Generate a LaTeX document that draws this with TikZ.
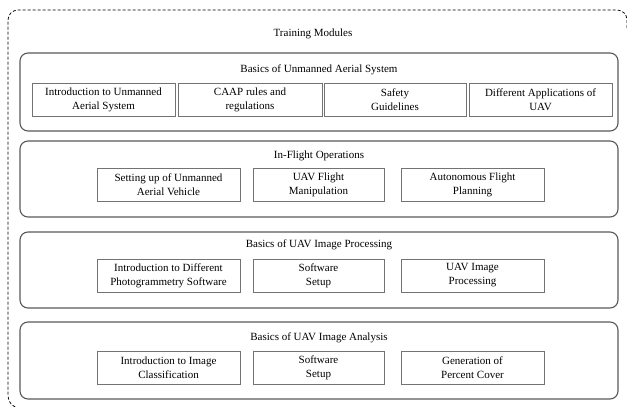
\documentclass[tikz,border=0pt]{standalone}
\usepackage{fontspec}
\setmainfont{Liberation Serif}
\begin{document}
\begin{tikzpicture}[x=1pt, y=-1pt,
	module/.style={draw=black!65, line width=1.1pt, rounded corners=8pt},
	topic/.style={draw=black!55, line width=0.6pt, align=center, inner sep=0pt,
		minimum height=33pt, font=\fontsize{11}{14}\selectfont},
	heading/.style={inner sep=0pt, font=\fontsize{11}{14}\selectfont}]
		\useasboundingbox (0, 0) rectangle (627, 407);
		% outer frame, cut at the page edge
		\begin{scope}
			\clip (0, 0) rectangle (627, 407);
			\draw[line width=0.75pt, dash pattern=on 3pt off 2pt]
				(20, 408) arc[start angle=90, end angle=180, radius=12] -- (8, 20)
				arc[start angle=180, end angle=270, radius=10] -- (617, 10)
				arc[start angle=270, end angle=360, radius=10] -- (627, 30);
		\end{scope}
		\node[heading] (title) at (313, 34) {Training Modules};

		% module frames
		\draw[module] (20, 53) rectangle (618, 131);
		\draw[module] (20, 141) rectangle (618, 217);
		\draw[module] (20, 232) rectangle (618, 308);
		\draw[module] (20, 322) rectangle (618, 399);
		\node[heading] (h1) at (319, 70) {Basics of Unmanned Aerial System};
		\node[heading] (h2) at (319, 156) {In-Flight Operations};
		\node[heading] (h3) at (319, 245) {Basics of UAV Image Processing};
		\node[heading] (h4) at (319, 338) {Basics of UAV Image Analysis};

		% first module
		\foreach \x/\w/\txt [count=\i] in {103.5/143/{Introduction to Unmanned\\Aerial System},
			250/144/{CAAP rules and\\regulations}, 395/142/{Safety\\Guidelines},
			540.5/143/{Different Applications of\\UAV}}{
			\node[topic, minimum width=\w pt] (a\i) at (\x, 99.5) {\txt};
		}
		% other modules
		\foreach \x/\w/\txt [count=\i] in {168.5/143/{Setting up of Unmanned\\Aerial Vehicle},
			318.5/131/{UAV Flight\\Manipulation}, 472.5/143/{Autonomous Flight\\Planning}}{
			\node[topic, minimum width=\w pt] (b\i) at (\x, 185) {\txt};
		}
		\foreach \x/\w/\txt [count=\i] in {168.5/143/{Introduction to Different\\Photogrammetry Software},
			318.5/131/{Software\\Setup}, 472.5/143/{UAV Image\\Processing}}{
			\node[topic, minimum width=\w pt] (c\i) at (\x, 275.5) {\txt};
		}
		\foreach \x/\w/\txt [count=\i] in {168.5/143/{Introduction to Image\\Classification},
			318.5/131/{Software\\Setup}, 472.5/143/{Generation of\\Percent Cover}}{
			\node[topic, minimum width=\w pt] (d\i) at (\x, 368) {\txt};
		}
\end{tikzpicture}
\end{document}
